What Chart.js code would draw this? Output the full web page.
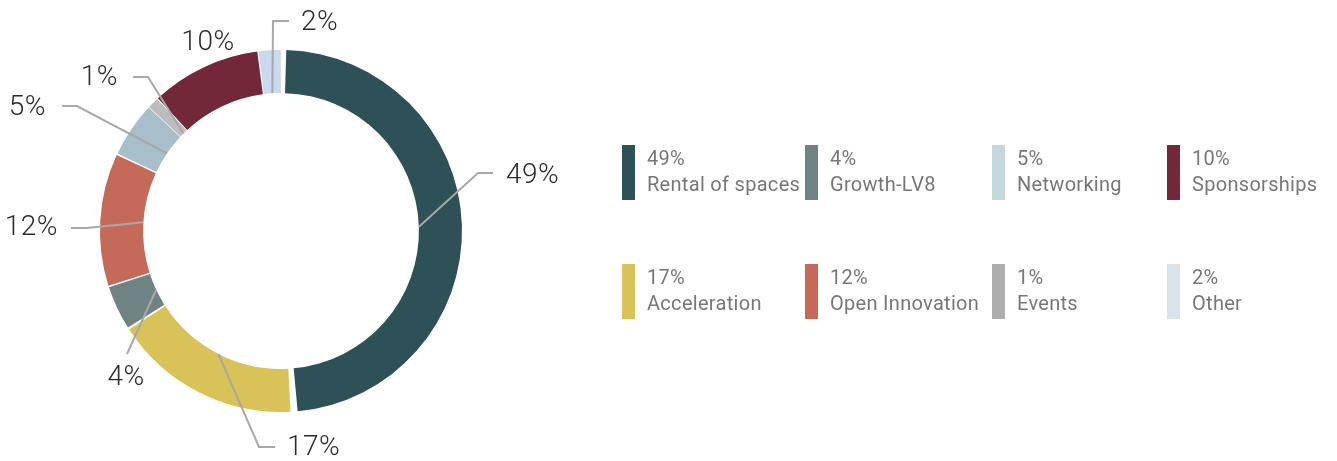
<!DOCTYPE html>
<html>
<head>
<meta charset="utf-8">
<script src="https://cdn.jsdelivr.net/npm/chart.js@4.4.1/dist/chart.umd.min.js"></script>
<style>
  html, body { margin: 0; padding: 0; background: #ffffff; }
  #wrap { position: relative; width: 1337px; height: 461px; }
</style>
</head>
<body>
<div id="wrap"><canvas id="revenue"></canvas></div>
<script>
// Revenue breakdown by source (percent of total)
const categories = ['Rental of spaces', 'Acceleration', 'Growth-LV8', 'Open Innovation',
                    'Networking', 'Events', 'Sponsorships', 'Other'];
const shares = [49, 17, 4, 12, 5, 1, 10, 2];
const shareLabels = ['49%', '17%', '4%', '12%', '5%', '1%', '10%', '2%'];

// Ring colours and the matching key swatches
const sliceColors = ['#2e5158', '#d9c257', '#708384', '#c56a58', '#a8bfcb', '#bdbdbd', '#722839', '#c9d9ee'];
const keyColors   = ['#2e5158', '#d9c257', '#708384', '#c56a58', '#c3d8dc', '#adadad', '#722839', '#dae3ea'];

// Callout placement around the ring, in px from the ring centre:
// [elbowX, elbowY, endX, textX, textY, align, straight]
const calloutLayout = [
  [197, -58, 212, 225, -55, 'left'],
  [-22, 216, -6, 6, 217, 'left'],
  [-154, 123, null, -155, 147, 'center', true],
  [-194, -3, -210, -223, -3, 'right'],
  [-204, -125, -219, -235, -123, 'right'],
  [-133, -154, -148, -163, -153, 'right'],
  [null, null, null, -73, -188, 'center'],
  [-8, -210, 8, 20, -208, 'left']
];

// Key grid: 4 columns x 2 rows, filled column by column
const keyColumnsX = [622, 805, 992, 1167];
const keyRowsY = [145, 264];

const callouts = {
  id: 'callouts',
  afterDatasetsDraw(chart) {
    const ctx = chart.ctx;
    const meta = chart.getDatasetMeta(0);
    ctx.save();
    ctx.lineWidth = 2;
    ctx.strokeStyle = '#a8a8a8';
    ctx.fillStyle = '#2b2b2b';
    ctx.font = '300 28px Roboto, "Open Sans", sans-serif';
    if ('letterSpacing' in ctx) ctx.letterSpacing = '0.5px';
    ctx.textBaseline = 'middle';
    meta.data.forEach((arc, i) => {
      const p = arc.getProps(['x', 'y', 'startAngle', 'endAngle'], true);
      const mid = (p.startAngle + p.endAngle) / 2;
      const cx = p.x, cy = p.y;
      const r0 = 138; // leader lines start on the inner edge of the ring
      const L = calloutLayout[i];
      const straight = L[6] === true;
      if (L[0] !== null) {
        ctx.beginPath();
        ctx.moveTo(cx + Math.cos(mid) * r0, cy + Math.sin(mid) * r0);
        ctx.lineTo(cx + L[0], cy + L[1]);
        if (!straight && L[2] !== null) ctx.lineTo(cx + L[2], cy + L[1]);
        ctx.stroke();
      }
      ctx.textAlign = L[5];
      ctx.fillText(shareLabels[i], cx + L[3], cy + L[4]);
    });
    ctx.restore();
  },
  afterDraw(chart) {
    const ctx = chart.ctx;
    ctx.save();
    ctx.textBaseline = 'middle';
    ctx.textAlign = 'left';
    ctx.font = '20px Roboto, "Open Sans", sans-serif';
    if ('letterSpacing' in ctx) ctx.letterSpacing = '0.3px';
    categories.forEach((name, i) => {
      const col = Math.floor(i / 2), row = i % 2;
      const x = keyColumnsX[col], y = keyRowsY[row];
      ctx.fillStyle = keyColors[i];
      ctx.fillRect(x, y, 13, 55);
      ctx.fillStyle = '#777777';
      ctx.fillText(shareLabels[i], x + 25, y + 15);
      ctx.fillText(name, x + 25, y + 41);
    });
    ctx.restore();
  }
};

new Chart(document.getElementById('revenue'), {
  type: 'doughnut',
  data: {
    labels: categories,
    datasets: [{
      data: shares,
      backgroundColor: sliceColors,
      borderWidth: 0,
      hoverOffset: 0,
      spacing: 6
    }]
  },
  options: {
    responsive: true,
    maintainAspectRatio: false,
    animation: false,
    cutout: '75.8%',
    layout: { padding: { left: 100, top: 50, right: 875, bottom: 49 } },
    plugins: {
      legend: { display: false },
      tooltip: { enabled: false }
    }
  },
  plugins: [callouts]
});
</script>
</body>
</html>
